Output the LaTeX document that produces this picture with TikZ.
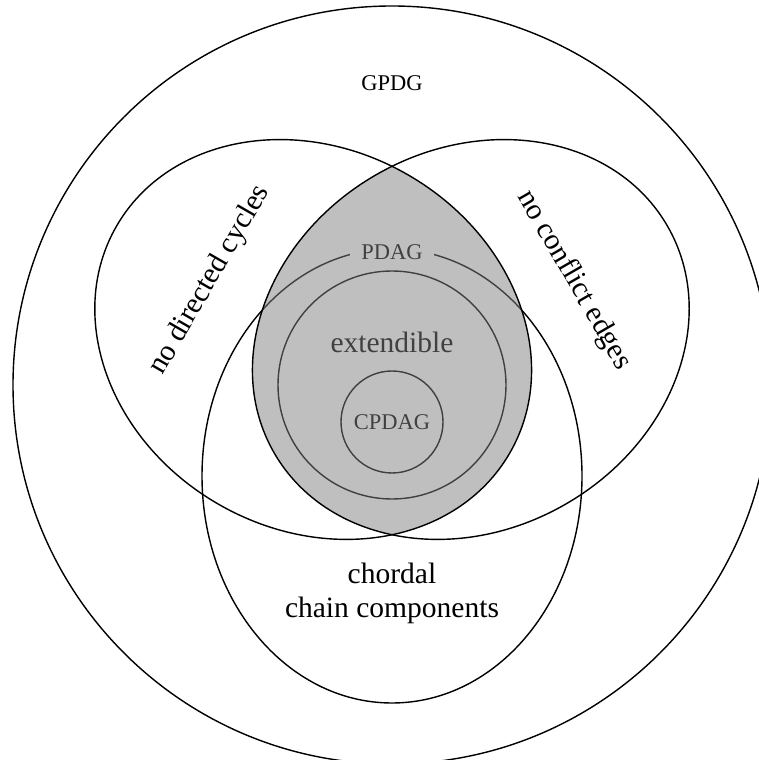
\documentclass[tikz,border=0pt]{standalone}
\usepackage{fontspec}
\setmainfont{Liberation Serif}
\tikzset{
  region/.style={font=\fontsize{8.4}{9.7}\selectfont},
  setname/.style={font=\fontsize{6.4}{7.5}\selectfont},
}
\begin{document}
\begin{tikzpicture}[scale=1.0]
\useasboundingbox (-3.92,-3.75) rectangle (3.66,3.85);
\coordinate (acyc) at (150:0.91);
\coordinate (noconf) at (30:0.91);
\coordinate (chord) at (270:0.91);
\draw (0,0) circle (3.79);
\draw (chord) circle [x radius=2.27, y radius=1.90, rotate=270];
\draw (0,0) circle (1.14);
\node[draw, circle, minimum size=1.02cm, inner sep=0pt, setname] (cpdag) at (0,-0.37) {CPDAG};
\node[region] (ext) at (0,0.43) {extendible};
\node[setname, fill=white, inner xsep=3.3pt, inner ysep=2pt] (pdag) at (0,1.33) {PDAG};
\node[setname] (gpdg) at (0,3.02) {GPDG};
\node[region, rotate=60] (nodir) at (-1.82,1.05) {no directed cycles};
\node[region, rotate=-60] (noconfl) at (1.82,1.05) {no conflict edges};
\node[region, align=center] (chordal) at (0,-2.08) {chordal\\chain components};
\begin{scope}
\clip (acyc) circle [x radius=2.27, y radius=1.90, rotate=150];
\fill[gray, fill opacity=0.5] (noconf) circle [x radius=2.27, y radius=1.90, rotate=30];
\end{scope}
\draw (acyc) circle [x radius=2.27, y radius=1.90, rotate=150];
\draw (noconf) circle [x radius=2.27, y radius=1.90, rotate=30];
\end{tikzpicture}
\end{document}
